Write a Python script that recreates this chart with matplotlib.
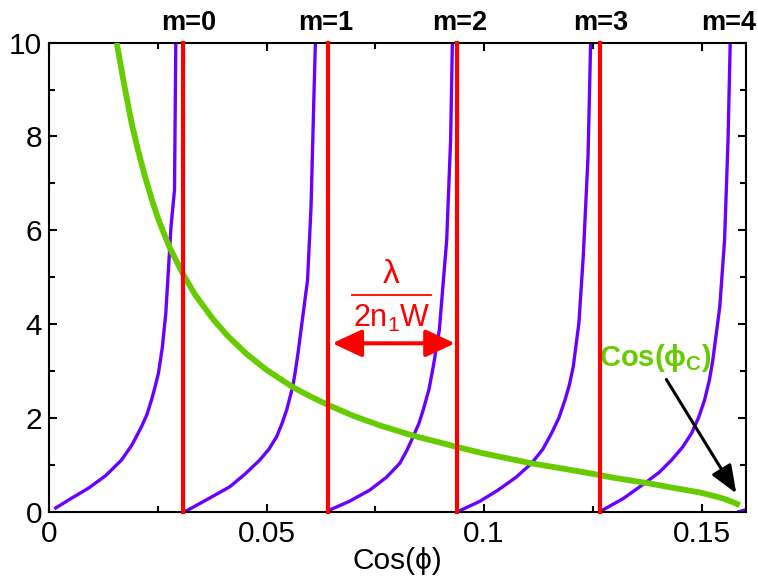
import numpy as np
import matplotlib
matplotlib.use("Agg")
import matplotlib.pyplot as plt
from matplotlib.ticker import MultipleLocator

plt.rcParams["font.family"] = ["Liberation Sans", "DejaVu Sans"]
plt.rcParams["mathtext.fontset"] = "custom"
plt.rcParams["mathtext.rm"] = "Liberation Sans"
plt.rcParams["mathtext.it"] = "Liberation Sans"
plt.rcParams["mathtext.bf"] = "Liberation Sans:bold"

# Left-hand side of the mode equation, one branch per mode m (x = cos(phi))
mode0_x = [0.0015, 0.0050, 0.0090, 0.0130, 0.0166, 0.0190, 0.0212, 0.0225, 0.0235,
           0.0243, 0.0251, 0.0260, 0.0268, 0.0280, 0.0288, 0.0291]
mode0_y = [0.08, 0.28, 0.50, 0.77, 1.10, 1.42, 1.81, 2.08, 2.38,
           2.65, 2.95, 3.50, 4.23, 6.08, 6.86, 10.0]
mode1_x = [0.0316, 0.0365, 0.0415, 0.0450, 0.0484, 0.0505, 0.0523, 0.0536, 0.0546,
           0.0560, 0.0566, 0.0572, 0.0594, 0.0602, 0.0609, 0.0612]
mode1_y = [0.02, 0.27, 0.53, 0.80, 1.10, 1.33, 1.60, 1.90, 2.17,
           2.67, 3.00, 3.38, 4.94, 6.50, 8.99, 10.0]
mode2_x = [0.0641, 0.0690, 0.0737, 0.0775, 0.0806, 0.0822, 0.0837, 0.0850, 0.0860,
           0.0873, 0.0883, 0.0897, 0.0914, 0.0923, 0.0927]
mode2_y = [0.02, 0.22, 0.46, 0.73, 1.03, 1.30, 1.60, 1.88, 2.17,
           2.60, 3.09, 3.87, 5.79, 7.93, 10.0]
mode3_x = [0.0944, 0.0990, 0.1032, 0.1073, 0.1109, 0.1135, 0.1155, 0.1172, 0.1186,
           0.1196, 0.1205, 0.1218, 0.1228, 0.1239, 0.1245]
mode3_y = [0.02, 0.22, 0.46, 0.73, 1.03, 1.33, 1.67, 2.00, 2.38,
           2.70, 3.09, 4.02, 5.44, 7.57, 10.0]
mode4_x = [0.1270, 0.1320, 0.1370, 0.1403, 0.1431, 0.1456, 0.1477, 0.1493, 0.1507,
           0.1518, 0.1526, 0.1542, 0.1553, 0.1561, 0.1566]
mode4_y = [0.02, 0.28, 0.61, 0.84, 1.10, 1.37, 1.67, 2.00, 2.38,
           2.80, 3.23, 4.37, 5.79, 7.93, 10.0]
mode5_x = [0.1586, 0.1602]
mode5_y = [0.00, 0.04]

# Right-hand side: critical-angle curve
crit_x = [0.0155, 0.0170, 0.0189, 0.0204, 0.0220, 0.0236, 0.0251, 0.0265, 0.0278,
          0.0308, 0.0335, 0.0377, 0.0410, 0.0454, 0.0500, 0.0561, 0.0600, 0.0640,
          0.0700, 0.0760, 0.0837, 0.0900, 0.0937, 0.1000, 0.1109, 0.1180, 0.1254,
          0.1300, 0.1381, 0.1440, 0.1496, 0.1530, 0.1550, 0.1570, 0.1588]
crit_y = [10.0, 9.22, 8.30, 7.71, 7.15, 6.65, 6.23, 5.90, 5.61,
          5.06, 4.63, 4.10, 3.75, 3.36, 3.02, 2.65, 2.46, 2.28,
          2.04, 1.84, 1.62, 1.47, 1.38, 1.24, 1.03, 0.92, 0.80,
          0.72, 0.60, 0.50, 0.41, 0.33, 0.28, 0.21, 0.14]

# Mode cut-off positions
cutoff_x = [0.0308, 0.0640, 0.0937, 0.1266]
mode_labels = ["m=0", "m=1", "m=2", "m=3", "m=4"]
mode_label_x = [0.0320, 0.0635, 0.0943, 0.1267, 0.1562]

PURPLE = "#6a00ff"
GREEN = "#66cc00"
RED = "#ff0000"

fig = plt.figure(figsize=(7.58, 5.79), dpi=100)
ax = fig.add_axes([0.065, 0.1163, 0.919, 0.81])

for xs, ys in [(mode0_x, mode0_y), (mode1_x, mode1_y), (mode2_x, mode2_y),
               (mode3_x, mode3_y), (mode4_x, mode4_y), (mode5_x, mode5_y)]:
    ax.plot(xs, ys, color=PURPLE, lw=2.4, zorder=2)

ax.plot(crit_x, crit_y, color=GREEN, lw=4.2, zorder=3, solid_capstyle="butt")

vl = ax.vlines(cutoff_x, 0, 10, colors=RED, lw=3.0, zorder=4, clip_on=False)
vl.set_capstyle("projecting")

for lab, lx in zip(mode_labels, mode_label_x):
    ax.text(lx, 10.41, lab, ha="center", va="center", fontsize=19.5,
            fontweight="bold", clip_on=False)

# spacing annotation between neighbouring cut-offs
ax.annotate("", xy=(0.0933, 3.59), xytext=(0.0651, 3.59),
            arrowprops=dict(arrowstyle="<|-|>,head_length=0.9,head_width=0.42",
                            color=RED, lw=2.9, shrinkA=0, shrinkB=0,
                            mutation_scale=20), zorder=5)
ax.text(0.0787, 5.05, "λ", color=RED, fontsize=24, ha="center", va="center")
ax.plot([0.0697, 0.0878], [4.62, 4.62], color=RED, lw=1.3)
ax.text(0.0787, 4.13, "2n$_1$W", color=RED, fontsize=22, ha="center", va="center")

ax.text(0.1393, 3.28, "Cos(ϕ$_\\mathbf{C}$)", color=GREEN, fontsize=21,
        fontweight="bold", ha="center", va="center")
ax.annotate("", xy=(0.1580, 0.39), xytext=(0.1419, 2.82),
            arrowprops=dict(arrowstyle="-|>,head_length=0.85,head_width=0.34",
                            color="black", lw=2.2, shrinkA=0, shrinkB=0,
                            mutation_scale=20), zorder=6)

ax.set_xlim(0, 0.1602)
ax.set_ylim(0, 10)
ax.xaxis.set_major_locator(MultipleLocator(0.05))
ax.xaxis.set_minor_locator(MultipleLocator(0.025))
ax.yaxis.set_major_locator(MultipleLocator(2))
ax.yaxis.set_minor_locator(MultipleLocator(1))
ax.set_xticks([0, 0.05, 0.1, 0.15])
ax.set_xticklabels(["0", "0.05", "0.1", "0.15"])
ax.tick_params(which="both", direction="in", top=True, right=True, width=1.5)
ax.tick_params(which="major", length=6, labelsize=21.5)
ax.tick_params(which="minor", length=4)
ax.tick_params(axis="x", pad=6)
ax.tick_params(axis="y", pad=5)
for sp in ax.spines.values():
    sp.set_linewidth(1.5)
ax.set_xlabel("Cos(ϕ)", fontsize=21.5, labelpad=-1)

fig.savefig("out.png", dpi=100)
